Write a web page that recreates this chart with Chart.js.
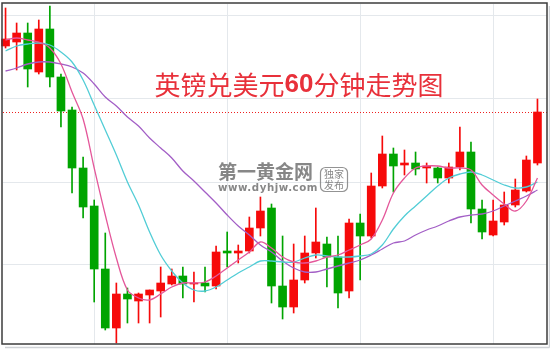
<!DOCTYPE html>
<html>
<head>
<meta charset="utf-8">
<script src="https://cdn.jsdelivr.net/npm/chart.js@4.4.1/dist/chart.umd.min.js"></script>
<style>
  html, body { margin: 0; padding: 0; background: #fff; }
  #wrap { width: 550px; height: 349px; }
</style>
</head>
<body>
<div id="wrap"><canvas id="fxChart" width="550" height="349"></canvas></div>
<script>
// GBP/USD 60 min candles
const opens = [
  1.26208, 1.26216, 1.26234, 1.26156, 1.26242, 1.26146, 1.26080, 1.25964, 1.25888, 1.25762,
  1.25644, 1.25712, 1.25698, 1.25710, 1.25718, 1.25732, 1.25748, 1.25732, 1.25734, 1.25728,
  1.25798, 1.25794, 1.25798, 1.25844, 1.25884, 1.25728, 1.25686, 1.25740, 1.25794, 1.25812,
  1.25786, 1.25718, 1.25854, 1.25828, 1.25928, 1.25992, 1.25970, 1.25974, 1.25964, 1.25964,
  1.25944, 1.25966, 1.25996, 1.25882, 1.25830, 1.25856, 1.25890, 1.25918, 1.25974,
];
const highs = [
  1.26284, 1.26254, 1.26254, 1.26260, 1.26288, 1.26152, 1.26086, 1.25986, 1.25900, 1.25834,
  1.25734, 1.25724, 1.25714, 1.25720, 1.25766, 1.25762, 1.25766, 1.25756, 1.25766, 1.25808,
  1.25836, 1.25810, 1.25866, 1.25906, 1.25892, 1.25828, 1.25812, 1.25828, 1.25884, 1.25826,
  1.25828, 1.25862, 1.25872, 1.25954, 1.26028, 1.26004, 1.26000, 1.25996, 1.25974, 1.25966,
  1.25974, 1.26046, 1.26016, 1.25900, 1.25900, 1.25916, 1.25942, 1.25988, 1.26102,
];
const lows = [
  1.26204, 1.26160, 1.26126, 1.26152, 1.26126, 1.26046, 1.25914, 1.25864, 1.25696, 1.25640,
  1.25614, 1.25654, 1.25654, 1.25654, 1.25666, 1.25730, 1.25704, 1.25696, 1.25716, 1.25722,
  1.25766, 1.25774, 1.25794, 1.25828, 1.25694, 1.25662, 1.25674, 1.25734, 1.25784, 1.25726,
  1.25684, 1.25704, 1.25740, 1.25824, 1.25924, 1.25916, 1.25950, 1.25950, 1.25934, 1.25934,
  1.25934, 1.25960, 1.25854, 1.25822, 1.25828, 1.25850, 1.25886, 1.25916, 1.25970,
];
const closes = [
  1.26222, 1.26234, 1.26162, 1.26242, 1.26146, 1.26078, 1.25964, 1.25886, 1.25762, 1.25644,
  1.25712, 1.25702, 1.25712, 1.25720, 1.25734, 1.25748, 1.25732, 1.25734, 1.25728, 1.25796,
  1.25794, 1.25798, 1.25844, 1.25878, 1.25728, 1.25686, 1.25740, 1.25794, 1.25816, 1.25786,
  1.25714, 1.25854, 1.25828, 1.25928, 1.25992, 1.25968, 1.25974, 1.25962, 1.25968, 1.25944,
  1.25966, 1.25996, 1.25882, 1.25836, 1.25858, 1.25890, 1.25920, 1.25980, 1.26076,
];

// moving average lines as they appear on the picture
const ma5 = [
  1.26220, 1.26224, 1.26220, 1.26216, 1.26204, 1.26172, 1.26116, 1.26062, 1.25964, 1.25870,
  1.25784, 1.25720, 1.25704, 1.25700, 1.25712, 1.25726, 1.25734, 1.25734, 1.25736, 1.25748,
  1.25764, 1.25780, 1.25796, 1.25816, 1.25804, 1.25786, 1.25776, 1.25774, 1.25778, 1.25786,
  1.25790, 1.25800, 1.25810, 1.25822, 1.25860, 1.25914, 1.25944, 1.25964, 1.25968, 1.25968,
  1.25964, 1.25964, 1.25960, 1.25930, 1.25910, 1.25892, 1.25878, 1.25898, 1.25944,
];
const ma10 = [
  1.26198, 1.26208, 1.26212, 1.26214, 1.26210, 1.26196, 1.26176, 1.26140, 1.26090, 1.26040,
  1.25990, 1.25936, 1.25890, 1.25836, 1.25790, 1.25758, 1.25734, 1.25720, 1.25718, 1.25726,
  1.25740, 1.25754, 1.25766, 1.25778, 1.25778, 1.25776, 1.25776, 1.25784, 1.25790, 1.25788,
  1.25786, 1.25786, 1.25788, 1.25792, 1.25810, 1.25842, 1.25868, 1.25888, 1.25908, 1.25928,
  1.25944, 1.25952, 1.25956, 1.25950, 1.25940, 1.25930, 1.25924, 1.25926, 1.25936,
];
const ma20 = [
  1.26158, 1.26164, 1.26172, 1.26176, 1.26176, 1.26172, 1.26166, 1.26154, 1.26132, 1.26106,
  1.26088, 1.26066, 1.26048, 1.26024, 1.26004, 1.25984, 1.25958, 1.25938, 1.25916, 1.25894,
  1.25870, 1.25848, 1.25830, 1.25810, 1.25796, 1.25778, 1.25764, 1.25756, 1.25756, 1.25762,
  1.25768, 1.25774, 1.25780, 1.25790, 1.25802, 1.25814, 1.25818, 1.25830, 1.25840, 1.25848,
  1.25858, 1.25866, 1.25870, 1.25872, 1.25878, 1.25888, 1.25898, 1.25908, 1.25920,
];

// horizontal grid levels and candles carrying a vertical grid line
const gridLevels = [1.26270, 1.26104, 1.25936, 1.25772];
const gridCandles = [8, 20, 32, 44];
const yMin = 1.25612;
const yMax = 1.26294;

const UP = "#f60a0a";
const DOWN = "#00a400";
const candleColors = closes.map((c, i) => (c >= opens[i] ? UP : DOWN));
const labels = closes.map((_, i) => String(i));

function line(ctx, x1, y1, x2, y2) {
  ctx.beginPath();
  ctx.moveTo(x1, y1);
  ctx.lineTo(x2, y2);
  ctx.stroke();
}

const decor = {
  id: "decor",
  beforeDatasetsDraw(chart) {
    const ctx = chart.ctx;
    const xs = chart.scales.x;
    const ys = chart.scales.y;
    ctx.save();

    // grid
    ctx.strokeStyle = "#e4e8ec";
    ctx.lineWidth = 1;
    gridLevels.forEach((v) => {
      const py = Math.round(ys.getPixelForValue(v)) + 0.5;
      line(ctx, 3, py, 547, py);
    });
    gridCandles.forEach((i) => {
      const px = Math.round(xs.getPixelForValue(i)) + 0.5;
      line(ctx, px, 4, px, 344);
    });

    // watermark
    ctx.fillStyle = "rgba(105,105,105,0.8)";
    ctx.textBaseline = "middle";
    ctx.textAlign = "left";
    ctx.font = "bold 19px 'Noto Sans CJK SC'";
    ctx.fillText("第一黄金网", 218, 172);
    ctx.font = "bold 11px 'DejaVu Sans'";
    ctx.letterSpacing = "0.6px";
    ctx.fillText("www.dyhjw.com", 218, 188, 100);
    ctx.letterSpacing = "0px";
    ctx.strokeStyle = "rgba(120,120,120,0.8)";
    ctx.lineWidth = 1.2;
    ctx.beginPath();
    ctx.roundRect(320.5, 167.5, 27, 24, 5);
    ctx.stroke();
    ctx.font = "10px 'Noto Sans CJK SC'";
    ctx.textAlign = "center";
    ctx.fillText("独家", 334, 174);
    ctx.fillText("发布", 334, 185);

    // last price line
    const lp = Math.round(ys.getPixelForValue(closes[closes.length - 1])) + 0.5;
    ctx.strokeStyle = "#ee2020";
    ctx.setLineDash([1, 2]);
    line(ctx, 3, lp, 547, lp);
    ctx.restore();
  },
  afterDraw(chart) {
    const ctx = chart.ctx;
    ctx.save();

    // frame with a soft shadow
    ctx.strokeStyle = "#cfd2d6";
    ctx.lineWidth = 1.5;
    line(ctx, 5, 347.5, 549.5, 347.5);
    line(ctx, 549.5, 6, 549.5, 347.5);
    ctx.strokeStyle = "#3c3c3c";
    ctx.lineWidth = 1.5;
    ctx.strokeRect(2, 3, 545, 341);

    // title
    const parts = [
      { t: "英镑兑美元", f: "26px 'Noto Sans CJK SC'" },
      { t: "60", f: "bold 26px 'Liberation Sans'" },
      { t: "分钟走势图", f: "26px 'Noto Sans CJK SC'" },
    ];
    let total = 0;
    parts.forEach((p) => {
      ctx.font = p.f;
      p.w = ctx.measureText(p.t).width;
      total += p.w;
    });
    let x = 299 - total / 2;
    ctx.fillStyle = "#e8303a";
    ctx.textBaseline = "middle";
    ctx.textAlign = "left";
    parts.forEach((p) => {
      ctx.font = p.f;
      ctx.fillText(p.t, x, 85);
      x += p.w;
    });
    ctx.restore();
  },
};

new Chart(document.getElementById("fxChart"), {
  type: "bar",
  data: {
    labels: labels,
    datasets: [
      {
        type: "line",
        label: "MA5",
        data: ma5,
        borderColor: "#e4579a",
        borderWidth: 1.3,
        pointRadius: 0,
        tension: 0.35,
        order: 0,
      },
      {
        type: "line",
        label: "MA10",
        data: ma10,
        borderColor: "#52cdd6",
        borderWidth: 1.3,
        pointRadius: 0,
        tension: 0.35,
        order: 0,
      },
      {
        type: "line",
        label: "MA20",
        data: ma20,
        borderColor: "#a35fc6",
        borderWidth: 1.3,
        pointRadius: 0,
        tension: 0.35,
        order: 0,
      },
      {
        label: "body",
        data: opens.map((o, i) => [o, closes[i]]),
        backgroundColor: candleColors,
        barThickness: 8,
        grouped: false,
        minBarLength: 1,
        order: 1,
      },
      {
        label: "wick",
        data: lows.map((l, i) => [l, highs[i]]),
        backgroundColor: candleColors,
        barThickness: 1,
        grouped: false,
        order: 2,
      },
    ],
  },
  options: {
    responsive: false,
    animation: false,
    layout: { padding: { left: 0, right: 7, top: 3, bottom: 5 } },
    plugins: {
      legend: { display: false },
      tooltip: { enabled: false },
    },
    scales: {
      x: { display: false },
      y: { display: false, min: yMin, max: yMax },
    },
  },
  plugins: [decor],
});
</script>
</body>
</html>
